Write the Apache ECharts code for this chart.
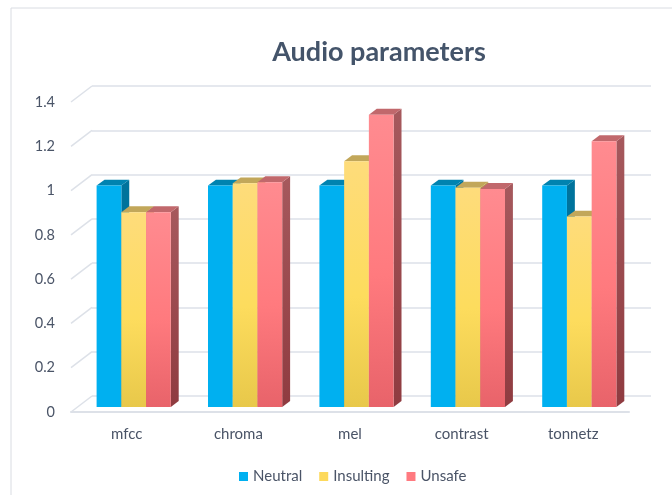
<!DOCTYPE html>
<html>
<head>
<meta charset="utf-8">
<script src="https://cdn.jsdelivr.net/npm/echarts@6/dist/echarts.min.js"></script>
<style>
  html, body { margin: 0; padding: 0; background: #ffffff; }
  #chart { width: 672px; height: 495px; }
</style>
</head>
<body>
<div id="chart"></div>
<script>
// Audio feature ratios per class
const categories = ['mfcc', 'chroma', 'mel', 'contrast', 'tonnetz'];
const neutral   = [1.00, 1.00, 1.00, 1.00, 1.00];
const insulting = [0.88, 1.01, 1.11, 0.99, 0.86];
const unsafe    = [0.88, 1.015, 1.32, 0.985, 1.20];
const yTicks = [0, 0.2, 0.4, 0.6, 0.8, 1, 1.2, 1.4];

const seriesNames = ['Neutral', 'Insulting', 'Unsafe'];
const seriesValues = [neutral, insulting, unsafe];

// Face styles for the pseudo-3D columns
const faceStyles = [
  {
    legend: '#00b0f0',
    front: '#00b0f0',
    side: '#00739c',
    top: '#0083b0'
  },
  {
    legend: '#fdd95c',
    front: { type: 'linear', x: 0, y: 0, x2: 0, y2: 1, colorStops: [
      { offset: 0, color: '#fedc7b' }, { offset: 0.55, color: '#fddc5d' }, { offset: 1, color: '#e8c84a' } ] },
    side: { type: 'linear', x: 0, y: 0, x2: 0, y2: 1, colorStops: [
      { offset: 0, color: '#b89d4c' }, { offset: 1, color: '#a48a35' } ] },
    top: '#c2a75a'
  },
  {
    legend: '#ff7a80',
    front: { type: 'linear', x: 0, y: 0, x2: 0, y2: 1, colorStops: [
      { offset: 0, color: '#ff8b90' }, { offset: 0.55, color: '#ff7a7e' }, { offset: 1, color: '#e8636a' } ] },
    side: { type: 'linear', x: 0, y: 0, x2: 0, y2: 1, colorStops: [
      { offset: 0, color: '#a6595d' }, { offset: 1, color: '#8f3b40' } ] },
    top: '#c1686c'
  }
];

const textColor = '#4a5467';
const gridColor = '#dde1e8';
const fontFamily = 'Lato, "Open Sans", sans-serif';

function columnRenderer(seriesIdx) {
  const st = faceStyles[seriesIdx];
  return function (params, api) {
    const cat = api.value(0);
    const val = api.value(1);
    const base = api.coord([cat, 0]);
    const topPt = api.coord([cat, val]);
    const band = api.size([1, 0])[0];
    const w = band * 0.222;
    const dx = w * 0.32;
    const dy = -w * 0.24;
    const x0 = base[0] - 1.5 * w + seriesIdx * w;
    const x1 = x0 + w;
    const yb = base[1];
    const yt = topPt[1];
    return {
      type: 'group',
      children: [
        { type: 'polygon', shape: { points: [[x1, yt], [x1 + dx, yt + dy], [x1 + dx, yb + dy], [x1, yb]] },
          style: { fill: st.side } },
        { type: 'polygon', shape: { points: [[x0, yt], [x0 + dx, yt + dy], [x1 + dx, yt + dy], [x1, yt]] },
          style: { fill: st.top } },
        { type: 'rect', shape: { x: x0, y: yt, width: w, height: yb - yt },
          style: { fill: st.front } }
      ]
    };
  };
}

const columnSeries = seriesNames.map((name, i) => ({
  type: 'custom',
  name: name,
  xAxisIndex: 2,
  yAxisIndex: 2,
  itemStyle: { color: faceStyles[i].legend },
  renderItem: columnRenderer(i),
  encode: { x: 0, y: 1 },
  data: seriesValues[i].map((v, c) => [c, v]),
  z: 10 + i
}));

// Side-wall slants joining the front tick positions to the back wall
const slantSeries = {
  type: 'custom',
  xAxisIndex: 1,
  yAxisIndex: 1,
  silent: true,
  renderItem: function (params, api) {
    const cs = params.coordSys;
    const y = api.coord([0, api.value(0)])[1];
    return {
      type: 'line',
      shape: { x1: cs.x, y1: y, x2: cs.x + 21, y2: y - 16 },
      style: { stroke: gridColor, lineWidth: 1.5 }
    };
  },
  encode: { y: 0 },
  data: yTicks.map(v => [v]),
  z: 1
};

const chart = echarts.init(document.getElementById('chart'), null, { renderer: 'canvas' });
chart.setOption({
  animation: false,
  backgroundColor: '#ffffff',
  textStyle: { fontFamily: fontFamily },
  title: {
    text: 'Audio parameters',
    left: 374,
    top: 34,
    textAlign: 'center',
    textStyle: { color: '#44546a', fontSize: 27, fontWeight: 'bold', fontFamily: fontFamily }
  },
  legend: {
    data: seriesNames,
    left: 234,
    top: 464,
    icon: 'rect',
    itemWidth: 9,
    itemHeight: 9,
    itemGap: 17,
    textStyle: { color: textColor, fontSize: 15, fontFamily: fontFamily }
  },
  graphic: [
    { type: 'rect', shape: { x: 11, y: 8, width: 700, height: 600 },
      style: { fill: 'none', stroke: '#d9dce2', lineWidth: 1 }, silent: true }
  ],
  grid: [
    { left: 92, right: 21, top: 86, bottom: 99 },   // back wall
    { left: 71, right: 43, top: 102, bottom: 83 },  // front plane
    { left: 78, right: 37, top: 97, bottom: 88 }    // column plane
  ],
  xAxis: [
    { gridIndex: 0, type: 'category', data: categories, show: false },
    { gridIndex: 1, type: 'category', data: categories,
      axisLine: { show: true, lineStyle: { color: gridColor, width: 2 } },
      axisTick: { show: false },
      axisLabel: { color: textColor, fontSize: 15, margin: 15, fontFamily: fontFamily } },
    { gridIndex: 2, type: 'category', data: categories, show: false }
  ],
  yAxis: [
    { gridIndex: 0, type: 'value', min: 0, max: 1.4, interval: 0.2,
      axisLine: { show: false }, axisTick: { show: false }, axisLabel: { show: false },
      splitLine: { show: true, lineStyle: { color: gridColor, width: 1.5 } } },
    { gridIndex: 1, type: 'value', min: 0, max: 1.4, interval: 0.2,
      axisLine: { show: false }, axisTick: { show: false }, splitLine: { show: false },
      axisLabel: { color: textColor, fontSize: 14.5, margin: 16, fontFamily: fontFamily } },
    { gridIndex: 2, type: 'value', min: 0, max: 1.4, interval: 0.2, show: false,
      splitLine: { show: false } }
  ],
  series: [slantSeries].concat(columnSeries)
});
</script>
</body>
</html>
